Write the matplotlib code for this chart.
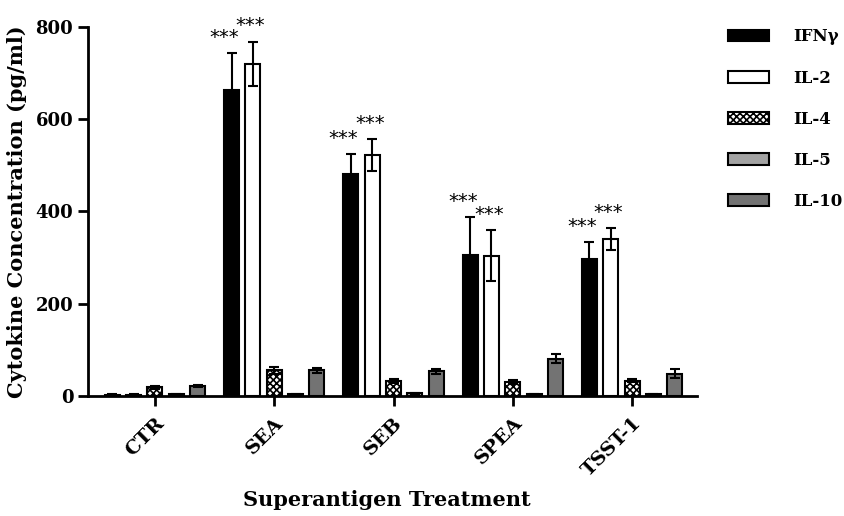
import numpy as np
import matplotlib
matplotlib.use("Agg")
import matplotlib.pyplot as plt

#--------data--------
treatments = ["CTR", "SEA", "SEB", "SPEA", "TSST-1"]
cytokines = ["IFNγ", "IL-2", "IL-4", "IL-5", "IL-10"]
ifng = [2, 664, 480, 306, 297]
ifng_err = [1, 80, 45, 82, 37]
il2 = [2, 720, 522, 304, 340]
il2_err = [1, 48, 35, 56, 24]
il4 = [18, 55, 32, 30, 33]
il4_err = [3, 8, 4, 4, 4]
il5 = [3, 3, 5, 3, 3]
il5_err = [1, 1, 1, 1, 1]
il10 = [22, 55, 53, 80, 48]
il10_err = [2, 6, 5, 10, 10]
# significance marks for IFNy and IL-2
signif_ifng = ["", "***", "***", "***", "***"]
signif_il2 = ["", "***", "***", "***", "***"]
#--------data end--------

values = [ifng, il2, il4, il5, il10]
errors = [ifng_err, il2_err, il4_err, il5_err, il10_err]
facecolors = ["black", "white", "white", "#a3a3a3", "#737373"]
hatches = [None, None, "xxxxx", None, None]

plt.rcParams["font.family"] = "DejaVu Serif"
plt.rcParams["font.weight"] = "bold"
plt.rcParams["hatch.linewidth"] = 1.2

fig = plt.figure(figsize=(8.45, 5.16), dpi=100)
ax = fig.add_axes([0.104, 0.233, 0.721, 0.715])

x = np.arange(len(treatments))
step = 0.179
width = 0.126
handles = []
for i, (vals, errs, fc, h, name) in enumerate(zip(values, errors, facecolors, hatches, cytokines)):
  pos = x + (i - 2) * step
  b = ax.bar(pos, vals, width, color=fc, edgecolor="black", linewidth=1.5, hatch=h,
             label=name, zorder=2)
  ax.errorbar(pos, vals, yerr=errs, fmt="none", ecolor="black", elinewidth=1.5,
              capsize=3.5, capthick=1.5, zorder=3)
  handles.append(b)

# stars above the error bars, IFNy group nudged left like the original
for i, (sig_list, vals, errs, shift) in enumerate([(signif_ifng, ifng, ifng_err, -0.06),
                                                   (signif_il2, il2, il2_err, -0.02)]):
  pos = x + (i - 2) * step
  for p, s, v, e in zip(pos, sig_list, vals, errs):
    if s:
      ax.text(p + shift, v + e + 22, s, ha="center", va="baseline", fontsize=14,
              family="DejaVu Sans", fontweight="normal")

ax.set_xlim(-0.562, 4.545)
ax.set_ylim(0, 800)
ax.set_yticks([0, 200, 400, 600, 800])
ax.set_xticks(x)
ax.set_xticklabels(treatments, rotation=45, ha="right", rotation_mode="anchor")
ax.spines["top"].set_visible(False)
ax.spines["right"].set_visible(False)
ax.spines["left"].set_linewidth(2)
ax.spines["bottom"].set_linewidth(2)
ax.tick_params(axis="both", width=2, length=7, labelsize=13, direction="out")
ax.tick_params(axis="x", pad=6, labelsize=14)
ax.set_ylabel("Cytokine Concentration (pg/ml)", fontsize=15, fontweight="bold", labelpad=6)
ax.set_xlabel("Superantigen Treatment", fontsize=15, fontweight="bold")
ax.xaxis.set_label_coords(0.49, -0.255)

fig.legend(handles=handles, labels=cytokines, loc="upper left",
           bbox_to_anchor=(0.8615, 0.945), frameon=False, fontsize=12,
           borderpad=0, borderaxespad=0,
           handlelength=2.45, handleheight=0.7, labelspacing=1.45, handletextpad=1.45)

plt.savefig("out.png", dpi=100)
